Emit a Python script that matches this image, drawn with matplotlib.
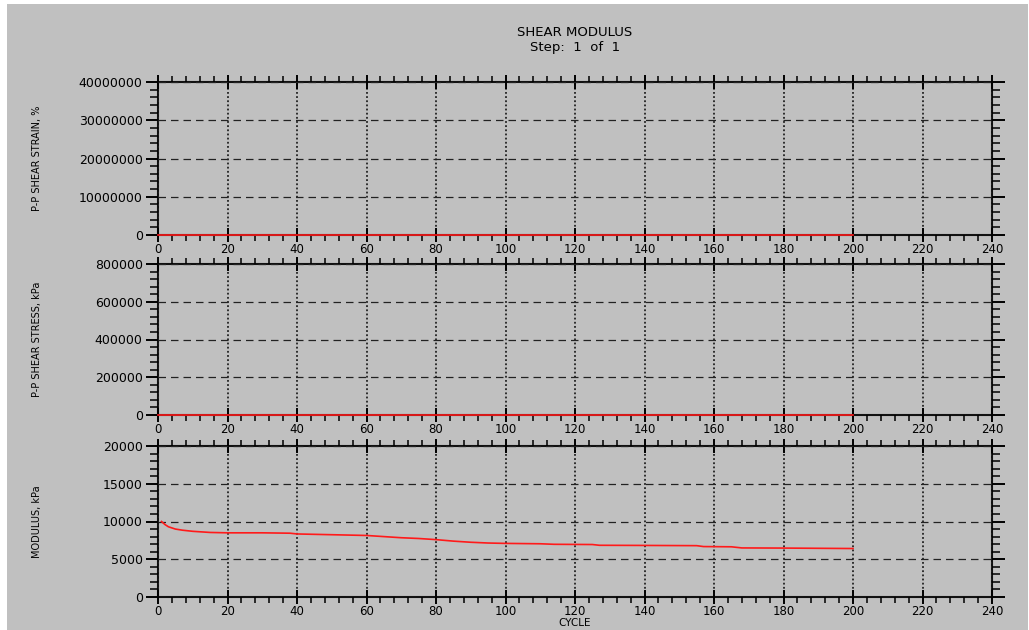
import matplotlib
matplotlib.use("Agg")
import matplotlib.pyplot as plt
from matplotlib.patches import Rectangle
from matplotlib.ticker import MultipleLocator, ScalarFormatter

# modulus curve (cycle -> kPa)
cycle = [1, 2, 3, 5, 7, 10, 15, 20, 30, 38, 40, 50, 60, 65, 70, 75, 80, 85, 90, 95,
         100, 110, 114, 125, 127, 140, 155, 157, 165, 168, 180, 190, 200]
modulus = [10000, 9600, 9300, 9000, 8850, 8700, 8550, 8500, 8500, 8450, 8350, 8250,
           8150, 8000, 7850, 7750, 7600, 7400, 7250, 7150, 7100, 7050, 6980, 6950,
           6850, 6830, 6800, 6680, 6650, 6500, 6480, 6450, 6420]
strain_cycle = [0, 200]
strain = [0, 0]        # P-P shear strain, %
stress = [0, 0]        # P-P shear stress, kPa

YLABELS = ["P-P SHEAR STRAIN, %", "P-P SHEAR STRESS, kPa", "MODULUS, kPa"]
YMAX = [40000000, 800000, 20000]
YMAJ = [10000000, 200000, 5000]
GREY = "#c0c0c0"

W, H = 1029, 630
fig = plt.figure(figsize=(W / 100, H / 100), dpi=100, facecolor="white")
fig.patches.append(Rectangle((7 / W, 0), 1 - 8 / W, 1 - 4 / H, transform=fig.transFigure,
                             facecolor=GREY, edgecolor="none", zorder=-10))

# panel boxes in pixels: (top, bottom)
boxes = [(82, 235), (264, 415), (446, 597)]
left, right = 158, 992
axes = []
for (top, bot) in boxes:
    ax = fig.add_axes([left / W, 1 - bot / H, (right - left) / W, (bot - top) / H])
    axes.append(ax)

series = [(strain_cycle, strain), (strain_cycle, stress), (cycle, modulus)]
for ax, (xs, ys), lab, ymax, ymaj in zip(axes, series, YLABELS, YMAX, YMAJ):
    ax.set_facecolor(GREY)
    ax.plot(xs, ys, color="#ff1a1a", lw=1.2, zorder=3, clip_on=False)
    ax.set_xlim(0, 240)
    ax.set_ylim(0, ymax)
    ax.xaxis.set_major_locator(MultipleLocator(20))
    ax.xaxis.set_minor_locator(MultipleLocator(4))
    ax.yaxis.set_major_locator(MultipleLocator(ymaj))
    ax.yaxis.set_minor_locator(MultipleLocator(ymaj / 5))
    fmt = ScalarFormatter(useOffset=False)
    fmt.set_scientific(False)
    ax.yaxis.set_major_formatter(fmt)
    ax.xaxis.grid(True, color="#222222", lw=1.3, ls=(0, (1.0, 1.3)))
    ax.yaxis.grid(True, color="#222222", lw=0.9, ls=(0, (6, 4)))
    ax.set_axisbelow(False)
    for s in ax.spines.values():
        s.set_linewidth(1.5)
        s.set_color("#111111")
    ax.tick_params(axis="x", which="major", direction="inout", length=10, width=1.4,
                   top=True, labelsize=8.5, pad=1)
    ax.tick_params(axis="x", which="minor", direction="out", length=4, width=1.1, top=True)
    ax.tick_params(axis="y", which="major", direction="out", length=9, width=1.4,
                   right=True, labelsize=9, pad=2)
    ax.tick_params(axis="y", which="minor", direction="out", length=6, width=1.1, right=True)
    ax.set_ylabel(lab, fontsize=7)
    ax.yaxis.set_label_coords(-0.139, 0.5)

fig.text(575 / W, 1 - 33 / H, "SHEAR MODULUS", ha="center", va="center", fontsize=9.5)
fig.text(575 / W, 1 - 48 / H, "Step:  1  of  1", ha="center", va="center", fontsize=9.5)
fig.text(575 / W, 1 - 623 / H, "CYCLE", ha="center", va="center", fontsize=7.5)

fig.savefig("out.png", dpi=100, facecolor="white")
